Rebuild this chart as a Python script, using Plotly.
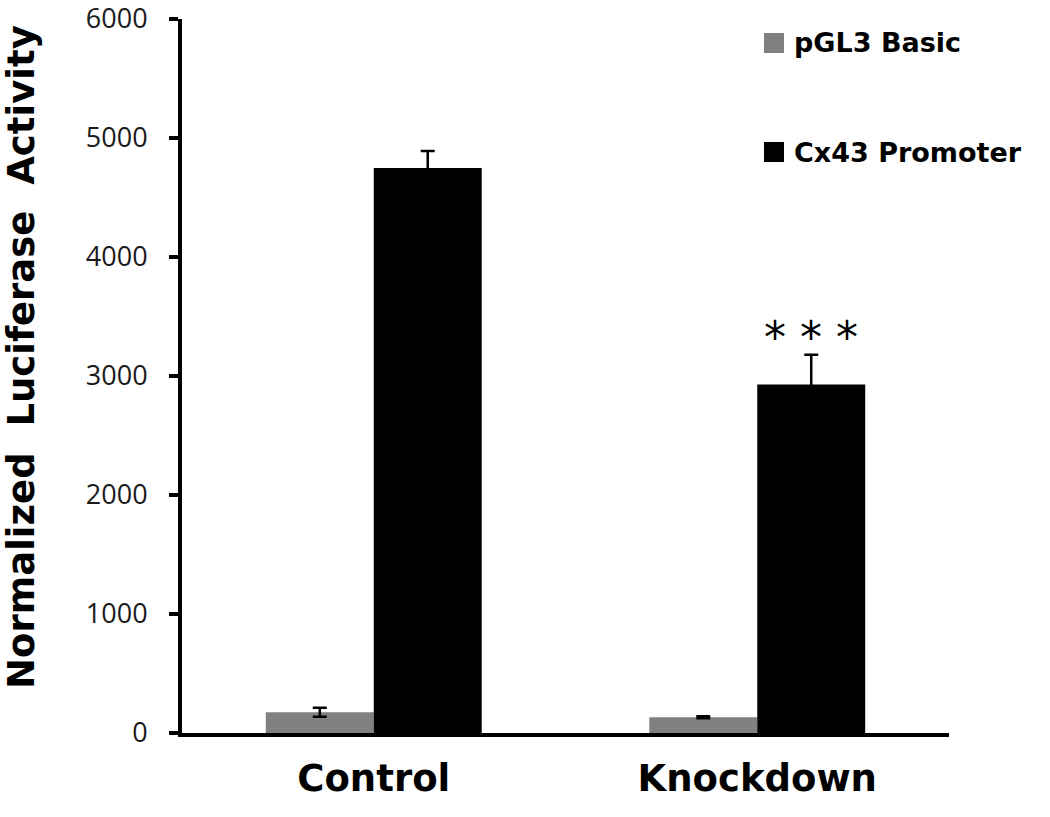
import plotly.graph_objects as go

categories = ["Control", "Knockdown"]
series_names = ["pGL3 Basic", "Cx43 Promoter"]
series_colors = ["#808080", "#000000"]
basic_values = [175, 133]
basic_errors = [38, 8]
promoter_values = [4748, 2929]
promoter_errors = [142, 250]
y_ticks = [0, 1000, 2000, 3000, 4000, 5000, 6000]
significance = "* * *"

values = [basic_values, promoter_values]
errors = [basic_errors, promoter_errors]

BARGAP = 0.437
BOLD = "DejaVu Sans"

fig = go.Figure()
for name, color, vals, errs in zip(series_names, series_colors, values, errors):
    fig.add_trace(go.Bar(
        x=categories, y=vals, name=name,
        marker=dict(color=color, line=dict(width=0)),
        error_y=dict(type="data", array=errs, visible=True,
                     color="black", thickness=2.5, width=7),
        showlegend=False,
    ))

W, H = 1050, 817
L, T = 182, 19
pw, ph = 767, 714
R = W - L - pw
B = H - T - ph

def px_to_paper(px, py):
    return (px - L) / pw, (T + ph - py) / ph

bar_w = (1 - BARGAP) / 2
fig.add_annotation(x=1 + bar_w / 2, y=promoter_values[1] + promoter_errors[1],
                   xref="x", yref="y", text=significance, showarrow=False,
                   yanchor="bottom", yshift=-10,
                   font=dict(family="DejaVu Sans", size=44, color="black"))

leg_items = [(series_names[0], series_colors[0], 43), (series_names[1], series_colors[1], 152)]
for name, color, cy in leg_items:
    x0, y0 = px_to_paper(764, cy + 10)
    x1, y1 = px_to_paper(784, cy - 10)
    fig.add_shape(type="rect", xref="paper", yref="paper", x0=x0, x1=x1, y0=y0, y1=y1,
                  fillcolor=color, line=dict(width=0))
    tx, ty = px_to_paper(792, cy)
    fig.add_annotation(x=tx, y=ty, xref="paper", yref="paper", text="<b>%s</b>" % name,
                       showarrow=False, xanchor="left", yanchor="middle",
                       font=dict(family=BOLD, size=27, color="black"))

tx, ty = px_to_paper(21, 357)
fig.add_annotation(x=tx, y=ty, xref="paper", yref="paper",
                   text="<b>Normalized  Luciferase  Activity</b>", textangle=-90,
                   showarrow=False, xanchor="center", yanchor="middle",
                   font=dict(family=BOLD, size=37, color="black"))

fig.update_layout(
    width=W, height=H,
    margin=dict(l=L, r=R, t=T, b=B, pad=0),
    paper_bgcolor="white", plot_bgcolor="white",
    barmode="group", bargap=BARGAP, bargroupgap=0,
    xaxis=dict(showline=True, linecolor="black", linewidth=4, showgrid=False,
               ticks="", tickfont=dict(family=BOLD, size=37, color="black"),
               ticklabelstandoff=10, zeroline=False, automargin=False),
    yaxis=dict(range=[0, 6000], tickvals=y_ticks, showline=True, linecolor="black",
               linewidth=4, showgrid=False, zeroline=False, ticks="outside",
               ticklen=9, tickwidth=4, tickcolor="black",
               tickfont=dict(family="Open Sans", size=27, color="#1a1a1a"),
               ticklabelstandoff=16, ticklabeloverflow="allow", automargin=False),
)
fig.update_xaxes(tickprefix="<b>", ticksuffix="</b>")

fig.write_html("out.html", config={"displayModeBar": False},
               post_script="document.body.style.margin='0px';document.body.style.overflow='hidden';")
